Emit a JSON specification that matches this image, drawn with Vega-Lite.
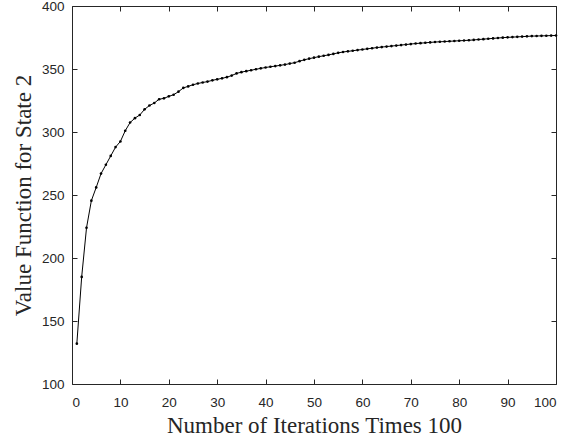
{
  "$schema": "https://vega.github.io/schema/vega-lite/v6.json",
  "width": 484,
  "height": 378,
  "autosize": {"type": "none"},
  "padding": {"left": 72, "top": 6, "right": 10, "bottom": 59},
  "background": "white",
  "config": {
    "view": {"stroke": null},
    "axis": {
      "grid": false,
      "domainColor": "#262626",
      "tickColor": "#262626",
      "domainWidth": 1,
      "tickWidth": 1,
      "tickSize": -5,
      "labelFont": "Liberation Sans",
      "labelFontSize": 13.5,
      "labelColor": "#262626",
      "titleFont": "Liberation Serif",
      "titleFontSize": 23,
      "titleFontWeight": "normal",
      "titleColor": "#262626"
    }
  },
  "data": {"values": [
    {"n":1,"v":132},{"n":2,"v":185},{"n":3,"v":224},{"n":4,"v":245.5},{"n":5,"v":256},
    {"n":6,"v":267},{"n":7,"v":274},{"n":8,"v":281},{"n":9,"v":288},{"n":10,"v":292.5},
    {"n":11,"v":301},{"n":12,"v":307.5},{"n":13,"v":311},{"n":14,"v":313.5},{"n":15,"v":318},
    {"n":16,"v":321},{"n":17,"v":323},{"n":18,"v":326},{"n":19,"v":326.7},{"n":20,"v":328.3},
    {"n":21,"v":329.6},{"n":22,"v":332},{"n":23,"v":335},{"n":24,"v":336.2},{"n":25,"v":337.5},
    {"n":26,"v":338.5},{"n":27,"v":339.3},{"n":28,"v":340},{"n":29,"v":341},{"n":30,"v":341.8},
    {"n":31,"v":342.6},{"n":32,"v":343.5},{"n":33,"v":344.8},{"n":34,"v":346.5},{"n":35,"v":347.5},
    {"n":36,"v":348.3},{"n":37,"v":349},{"n":38,"v":349.8},{"n":39,"v":350.5},{"n":40,"v":351.2},
    {"n":41,"v":351.8},{"n":42,"v":352.3},{"n":43,"v":352.9},{"n":44,"v":353.5},{"n":45,"v":354.3},
    {"n":46,"v":355},{"n":47,"v":356.2},{"n":48,"v":357.3},{"n":49,"v":358.2},{"n":50,"v":359},
    {"n":51,"v":359.8},{"n":52,"v":360.5},{"n":53,"v":361.2},{"n":54,"v":362},{"n":55,"v":362.8},
    {"n":56,"v":363.5},{"n":57,"v":364},{"n":58,"v":364.5},{"n":59,"v":365},{"n":60,"v":365.5},
    {"n":61,"v":366},{"n":62,"v":366.5},{"n":63,"v":367},{"n":64,"v":367.4},{"n":65,"v":367.8},
    {"n":66,"v":368.2},{"n":67,"v":368.6},{"n":68,"v":369},{"n":69,"v":369.4},{"n":70,"v":369.8},
    {"n":71,"v":370.2},{"n":72,"v":370.5},{"n":73,"v":370.8},{"n":74,"v":371.1},{"n":75,"v":371.4},
    {"n":76,"v":371.6},{"n":77,"v":371.8},{"n":78,"v":372},{"n":79,"v":372.2},{"n":80,"v":372.4},
    {"n":81,"v":372.6},{"n":82,"v":372.8},{"n":83,"v":373.1},{"n":84,"v":373.4},{"n":85,"v":373.7},
    {"n":86,"v":374},{"n":87,"v":374.3},{"n":88,"v":374.6},{"n":89,"v":374.9},{"n":90,"v":375.1},
    {"n":91,"v":375.3},{"n":92,"v":375.5},{"n":93,"v":375.7},{"n":94,"v":375.9},{"n":95,"v":376.1},
    {"n":96,"v":376.2},{"n":97,"v":376.3},{"n":98,"v":376.4},{"n":99,"v":376.5},{"n":100,"v":376.6}
  ]},
  "layer": [
    {
      "mark": {"type": "line", "color": "black", "strokeWidth": 1, "point": {"filled": true, "color": "black", "size": 7}},
      "encoding": {
        "x": {"field": "n", "type": "quantitative",
              "scale": {"domain": [0, 100], "nice": false},
              "axis": {"orient": "bottom", "values": [0,10,20,30,40,50,60,70,80,90,100], "labelPadding": 16, "title": "Number of Iterations Times 100", "titlePadding": 6}},
        "y": {"field": "v", "type": "quantitative",
              "scale": {"domain": [100, 400], "nice": false, "zero": false},
              "axis": {"orient": "left", "values": [100,150,200,250,300,350,400], "labelPadding": 13, "title": "Value Function for State 2", "titlePadding": 6}}
      }
    },
    {
      "mark": {"type": "point", "opacity": 0},
      "encoding": {
        "x": {"field": "n", "type": "quantitative",
              "axis": {"orient": "top", "values": [0,10,20,30,40,50,60,70,80,90,100], "labels": false, "title": null}},
        "y": {"field": "v", "type": "quantitative",
              "axis": {"orient": "right", "values": [100,150,200,250,300,350,400], "labels": false, "title": null}}
      }
    }
  ],
  "resolve": {"axis": {"x": "independent", "y": "independent"}}
}
